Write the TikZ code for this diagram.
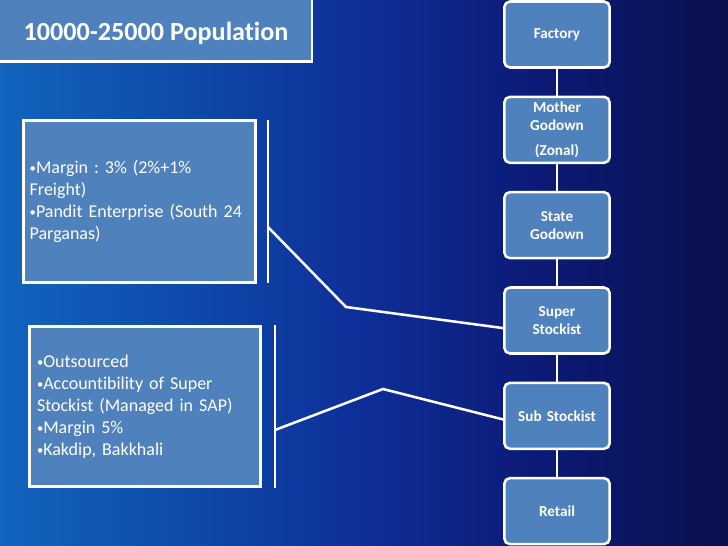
\documentclass[tikz,border=0pt]{standalone}
\usepackage{fontspec}
\setmainfont{Carlito}[Ligatures=NoCommon]
\frenchspacing
\usetikzlibrary{positioning}

\definecolor{boxblue}{RGB}{79,129,189}
\definecolor{bgA}{RGB}{18,100,190}
\definecolor{bgB}{RGB}{14,76,170}
\definecolor{bgC}{RGB}{14,46,152}
\definecolor{bgD}{RGB}{12,26,118}
\definecolor{bgE}{RGB}{10,16,78}
\pgfdeclarehorizontalshading{slidebg}{100bp}{color(0bp)=(bgA); color(25bp)=(bgA);
  color(37bp)=(bgB); color(50bp)=(bgC); color(62bp)=(bgD); color(75bp)=(bgE); color(100bp)=(bgE)}
\newcommand{\bul}{{\fontsize{9}{9}\selectfont\raisebox{0.12ex}{•}}}

\begin{document}
\begin{tikzpicture}[
  level/.style={draw=white, line width=1.8pt, fill=boxblue, rounded corners=4pt,
    minimum width=2.54cm, minimum height=1.65cm, text width=2.4cm, align=center,
    text=white, font=\bfseries\fontsize{10.8}{12.8}\selectfont},
  note/.style={draw=white, line width=1.8pt, fill=boxblue, text=white, align=left,
    inner xsep=0.16cm, font=\fontsize{12.8}{15.6}\selectfont},
  link/.style={white, line width=1.8pt}]

  \useasboundingbox (0,0) rectangle (18.2,-13.65);
  \clip (0,0) rectangle (18.2,-13.65);
  \shade[shading=slidebg] (0,0) rectangle (18.2,-13.65);

  % title
  \draw[fill=boxblue, draw=white, line width=2pt] (-0.3,0.3) rectangle (7.8,-1.53);
  \node[text=white, font=\bfseries\fontsize{18.6}{22}\selectfont] (title) at (3.9,-0.83) {10000-25000 Population};

  % chain on the right
  \node[level] (factory) at (13.925,-0.8625) {Factory};
  \node[level, below=0.67cm of factory] (mother) {Mother\\Godown\\[5pt](Zonal)};
  \node[level, below=0.67cm of mother] (state) {State\\Godown};
  \node[level, below=0.67cm of state] (super) {Super\\Stockist};
  \node[level, below=0.67cm of super] (sub) {Sub Stockist};
  \node[level, below=0.67cm of sub] (retail) {Retail};

  \foreach \a/\b in {factory/mother, mother/state, state/super, super/sub, sub/retail}
    \draw[link] (\a) -- (\b);

  % notes
  \node[note, minimum width=5.81cm, minimum height=4.06cm, text width=5.49cm] (note1) at (3.4875,-5.0375)
    {\bul Margin : 3\% (2\%+1\%\\Freight)\\\bul Pandit Enterprise (South 24\\Parganas)};
  \node[note, minimum width=5.74cm, minimum height=4.01cm, text width=5.4cm, inner xsep=0.19cm] (note2) at (3.625,-10.1625)
    {\bul Outsourced\\\bul Accountibility of Super\\Stockist (Managed in SAP)\\\bul Margin 5\%\\\bul Kakdip, Bakkhali};

  \coordinate (bar1top) at (6.7,-3.0);
  \coordinate (bar1bot) at (6.7,-7.075);
  \coordinate (bar1mid) at (6.7,-5.675);
  \coordinate (bend1) at (8.65,-7.675);
  \coordinate (bar2top) at (6.875,-8.125);
  \coordinate (bar2bot) at (6.875,-12.2);
  \coordinate (bar2mid) at (6.875,-10.75);
  \coordinate (bend2) at (9.575,-9.725);

  \draw[link] (bar1top) -- (bar1bot);
  \draw[link] (bar2top) -- (bar2bot);
  \draw[link] (bar1mid) -- (bend1) -- ([yshift=-0.19cm]super.west);
  \draw[link] (bar2mid) -- (bend2) -- ([yshift=-0.09cm]sub.west);
\end{tikzpicture}
\end{document}
